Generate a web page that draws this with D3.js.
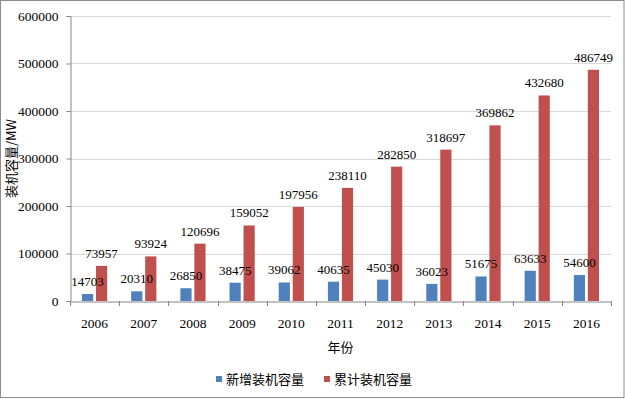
<!DOCTYPE html>
<html><head><meta charset="utf-8">
<script src="https://cdn.jsdelivr.net/npm/d3@7"></script>
<style>body{margin:0;background:#fff}svg{display:block}
.num{font-family:"Liberation Serif","Times New Roman","DejaVu Serif",serif}
.cjk{font-family:"Noto Sans CJK SC","Noto Sans",sans-serif}
</style>
</head><body>
<script>
const years = ["2006","2007","2008","2009","2010","2011","2012","2013","2014","2015","2016"];
const newCap = [14703,20310,26850,38475,39062,40635,45030,36023,51675,63633,54600];
const cumCap = [73957,93924,120696,159052,197956,238110,282850,318697,369862,432680,486749];
const seriesNames = ["新增装机容量","累计装机容量"];
const seriesColors = ["#4F81BD","#C0504D"];
const yTicks = [0,100000,200000,300000,400000,500000,600000];

const W=625,H=399;
const svg=d3.select("body").append("svg").attr("width",W).attr("height",H);

svg.append("rect").attr("x",0.5).attr("y",0.5).attr("width",W-1.5).attr("height",H-2)
  .attr("fill","#fff").attr("stroke","#8c8c8c").attr("stroke-width",1);

const L=70,R=611,T=16,B=301;
const x=d3.scaleBand().domain(years).range([L,R]).paddingInner(0).paddingOuter(0);
const xs=d3.scaleBand().domain([0,1]).range([12,x.bandwidth()-12]).paddingInner(0.2);
const y=d3.scaleLinear().domain([0,600000]).range([B,T]);

// gridlines
svg.append("g").selectAll("line").data(yTicks.filter(d=>d>0)).join("line")
  .attr("x1",L).attr("x2",R).attr("y1",d=>Math.round(y(d))+0.5).attr("y2",d=>Math.round(y(d))+0.5)
  .attr("stroke","#d9d9d9").attr("stroke-width",1);

// y axis
const ya=svg.append("g").attr("transform",`translate(${L+0.5},0)`)
  .call(d3.axisLeft(y).tickValues(yTicks).tickSize(4).tickPadding(8).tickFormat(d=>String(d)));
ya.attr("font-family",null).attr("font-size",null);
ya.select(".domain").attr("stroke","#868686");
ya.selectAll(".tick line").attr("stroke","#868686");
ya.selectAll("text").attr("class","num").style("font-size","13.5px").attr("fill","#000");

// x axis
const xa=svg.append("g").attr("transform",`translate(0,${B+0.5})`)
  .call(d3.axisBottom(x).tickSize(0).tickPadding(17));
xa.attr("font-family",null).attr("font-size",null);
xa.select(".domain").attr("stroke","#868686");
xa.selectAll("text").attr("class","num").style("font-size","13.5px").attr("fill","#000");
// category separator ticks
const seps=years.map(d=>x(d)).concat([R]);
svg.append("g").selectAll("line").data(seps).join("line")
  .attr("x1",d=>Math.round(d)+0.5).attr("x2",d=>Math.round(d)+0.5)
  .attr("y1",B).attr("y2",B+5).attr("stroke","#868686");

// bars
const data=[newCap,cumCap];
data.forEach((vals,si)=>{
  svg.append("g").selectAll("rect").data(vals).join("rect")
    .attr("x",(d,i)=>x(years[i])+xs(si))
    .attr("width",xs.bandwidth())
    .attr("y",d=>y(d))
    .attr("height",d=>B-y(d))
    .attr("fill",seriesColors[si]);
});
data.forEach((vals,si)=>{
  svg.append("g").selectAll("text").data(vals).join("text")
    .attr("class","num")
    .attr("x",(d,i)=>x(years[i])+xs(si)+xs.bandwidth()/2)
    .attr("y",d=>y(d)-8)
    .attr("text-anchor","middle")
    .style("font-size","13px").attr("fill","#000")
    .text(d=>d);
});

// axis titles
svg.append("text").attr("class","cjk").attr("x",(L+R)/2).attr("y",352).attr("text-anchor","middle")
  .style("font-size","13px").text("年份");
svg.append("text").attr("class","cjk").attr("transform",`translate(16,${(T+B)/2}) rotate(-90)`)
  .attr("text-anchor","middle").style("font-size","13px")
  .text("装机容量/MW");

// legend
const lx=[216,324];
seriesNames.forEach((n,i)=>{
  svg.append("rect").attr("x",lx[i]).attr("y",376).attr("width",6).attr("height",6).attr("fill",seriesColors[i]);
  svg.append("text").attr("class","cjk").attr("x",lx[i]+10).attr("y",383.5).style("font-size","13px")
    .text(n);
});
</script>
</body></html>
